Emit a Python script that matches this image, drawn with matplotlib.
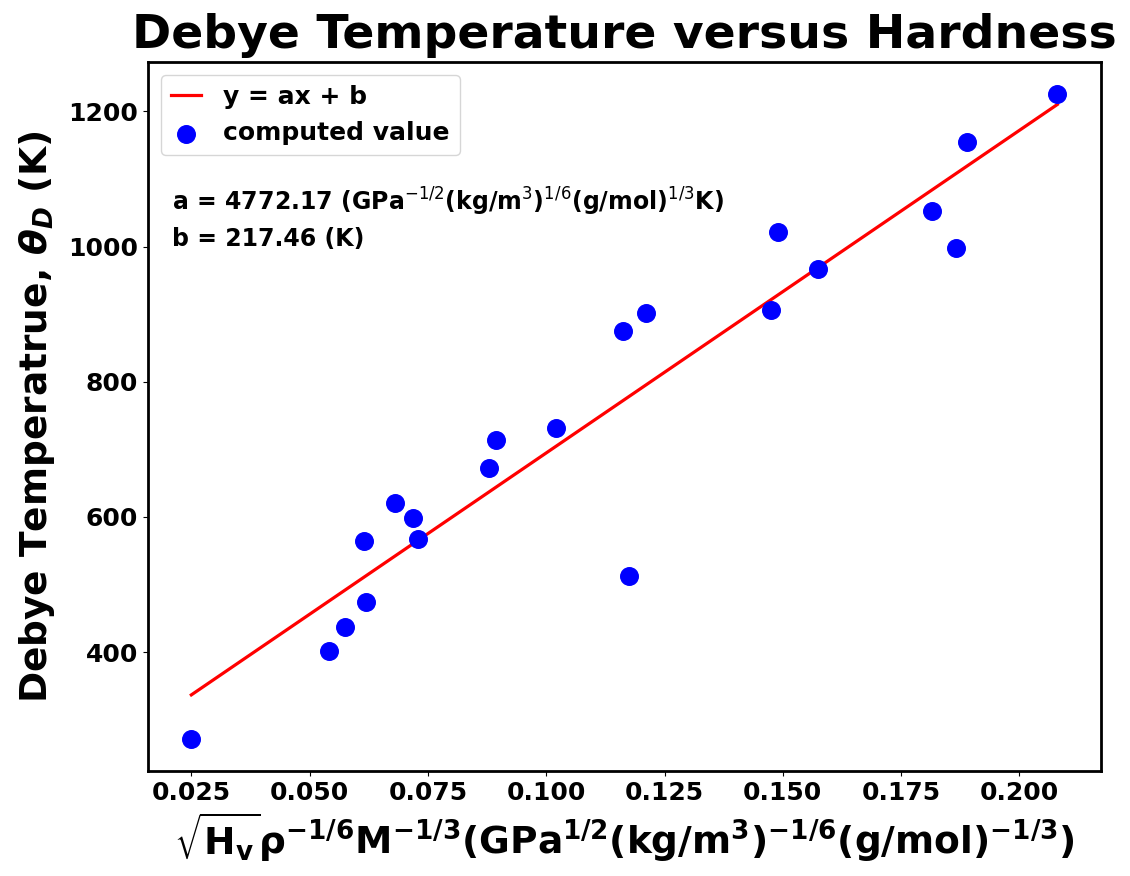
import numpy as np
import matplotlib
matplotlib.use("Agg")
from matplotlib import pyplot as plt

# hardness parameter sqrt(Hv) rho^-1/6 M^-1/3 and Debye temperature (K)
hardness = [0.025, 0.054, 0.0574, 0.062, 0.0614, 0.068, 0.0718, 0.073,
            0.088, 0.0893, 0.102, 0.1162, 0.121, 0.1175, 0.1475, 0.149,
            0.1575, 0.1816, 0.1865, 0.189, 0.208]
debye_temp = [272, 401, 437, 474, 565, 621, 598, 567,
              672, 714, 732, 875, 902, 512, 906, 1021,
              967, 1052, 998, 1154, 1225]

# linear fit parameters
a = 4772.17
b = 217.46

fig = plt.figure(figsize=(11.3, 8.76), dpi=100)
ax = fig.add_axes([0.131, 0.120, 0.843, 0.809])

x = np.array(hardness)
xs = np.array([x.min(), x.max()])
ax.plot(xs, a * xs + b, color="red", lw=2.3, label="y = ax + b")
ax.scatter(hardness, debye_temp, s=160, color="blue", zorder=3, label="computed value")

ax.set_title("Debye Temperature versus Hardness", fontsize=34, fontweight="bold", pad=10)
ax.set_xlabel(r"$\mathbf{\sqrt{H_v}\rho^{-1/6}M^{-1/3}(GPa^{1/2}(kg/m^3)^{-1/6}(g/mol)^{-1/3})}$",
              fontsize=27, labelpad=4)
ax.set_ylabel(r"Debye Temperatrue, $\mathbfit{\theta_D}$ (K)", fontsize=27, fontweight="bold",
              labelpad=8)

ax.text(0.025, 0.803, r"a = 4772.17 (GPa$^{-1/2}$(kg/m$^3$)$^{1/6}$(g/mol)$^{1/3}$K)",
        transform=ax.transAxes, fontsize=17, fontweight="bold", va="center")
ax.text(0.025, 0.751, "b = 217.46 (K)",
        transform=ax.transAxes, fontsize=17, fontweight="bold", va="center")

ax.set_xticks([0.025, 0.05, 0.075, 0.1, 0.125, 0.15, 0.175, 0.2])
ax.set_yticks([400, 600, 800, 1000, 1200])
for lab in ax.get_xticklabels() + ax.get_yticklabels():
    lab.set_fontweight("bold")
    lab.set_fontsize(18)
for sp in ax.spines.values():
    sp.set_linewidth(2)

leg = ax.legend(loc="upper left", prop={"weight": "bold", "size": 18},
                handlelength=1.2, handletextpad=0.9)

fig.savefig("out.png", dpi=100)
